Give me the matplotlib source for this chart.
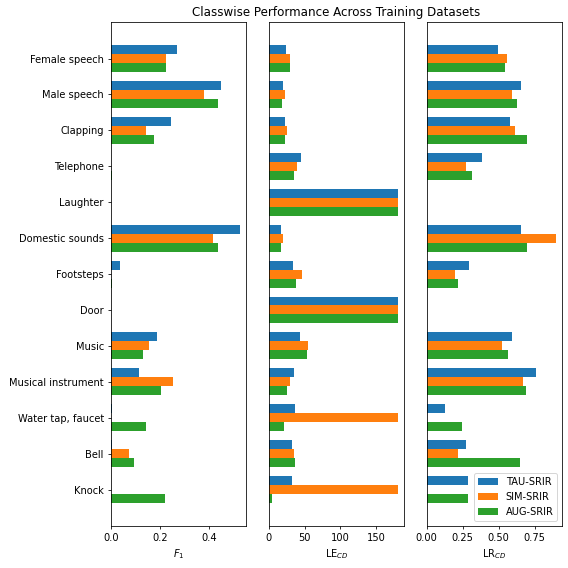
import numpy as np
import matplotlib
matplotlib.use("Agg")
import matplotlib.pyplot as plt

classes = ['Female speech', 'Male speech', 'Clapping', 'Telephone', 'Laughter',
           'Domestic sounds', 'Footsteps', 'Door', 'Music', 'Musical instrument',
           'Water tap, faucet', 'Bell', 'Knock']
datasets = ['TAU-SRIR', 'SIM-SRIR', 'AUG-SRIR']

# F1 per class
f1_tau = [0.267, 0.446, 0.246, 0.0, 0.0, 0.524, 0.038, 0.0, 0.186, 0.116, 0.005, 0.005, 0.0]
f1_sim = [0.226, 0.377, 0.144, 0.0, 0.0, 0.414, 0.0, 0.0, 0.157, 0.254, 0.0, 0.075, 0.0]
f1_aug = [0.226, 0.434, 0.177, 0.005, 0.0, 0.434, 0.005, 0.0, 0.129, 0.205, 0.145, 0.096, 0.219]

# localization error (degrees)
le_tau = [24.4, 20.3, 23.0, 45.0, 180, 17.5, 34.0, 180, 43.8, 35.5, 36.9, 32.7, 32.7]
le_sim = [30.0, 23.0, 25.8, 39.6, 180, 20.3, 46.5, 180, 54.8, 30.0, 180, 35.5, 180]
le_aug = [30.0, 18.9, 23.0, 35.5, 180, 17.5, 38.0, 180, 53.5, 25.8, 21.7, 36.9, 5.0]

# localization recall
lr_tau = [0.492, 0.653, 0.576, 0.387, 0.0, 0.653, 0.296, 0.0, 0.590, 0.758, 0.128, 0.275, 0.289]
lr_sim = [0.555, 0.590, 0.611, 0.275, 0.0, 0.897, 0.198, 0.0, 0.520, 0.667, 0.0, 0.219, 0.0]
lr_aug = [0.541, 0.625, 0.695, 0.317, 0.0, 0.695, 0.219, 0.0, 0.562, 0.688, 0.247, 0.646, 0.289]

metrics = [(f1_tau, f1_sim, f1_aug, '$F_1$'),
           (le_tau, le_sim, le_aug, 'LE$_{CD}$'),
           (lr_tau, lr_sim, lr_aug, 'LR$_{CD}$')]

y = np.arange(len(classes))
h = 0.25

fig, axes = plt.subplots(1, 3, sharey=True, figsize=(8, 8), dpi=71)
for i, (ax, (tau, sim, aug, label)) in enumerate(zip(axes, metrics)):
    ax.barh(y - h, tau, h, label=datasets[0])
    ax.barh(y, sim, h, label=datasets[1])
    ax.barh(y + h, aug, h, label=datasets[2])
    ax.set_xlabel(label)
    if i > 0:
        ax.tick_params(left=False, labelleft=False)

axes[0].set_yticks(y)
axes[0].set_yticklabels(classes)
axes[0].invert_yaxis()
axes[1].set_title('Classwise Performance Across Training Datasets')
axes[2].legend(loc='lower right')

fig.subplots_adjust(left=0.195, right=0.99, top=0.961, bottom=0.074, wspace=0.165)
plt.savefig('out.png')
